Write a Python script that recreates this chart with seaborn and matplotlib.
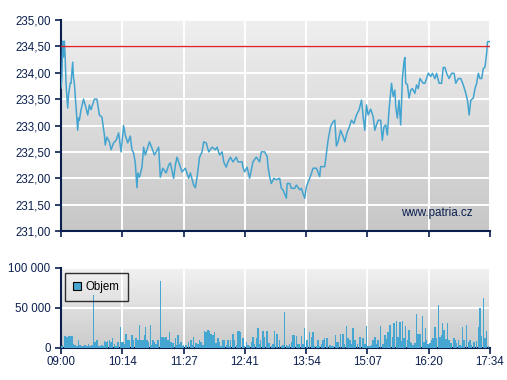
import matplotlib
matplotlib.use("Agg")
import matplotlib.pyplot as plt
import numpy as np
import pandas as pd
import seaborn as sns
from matplotlib.colors import LinearSegmentedColormap
from matplotlib.patches import Patch
from matplotlib.ticker import FuncFormatter

plt.rcParams["font.family"] = ["Liberation Sans", "DejaVu Sans"]

# minutes since 09:00 and price
price_min = [0, 1, 2, 3, 4, 5, 6, 8, 9, 11, 12, 14, 15, 16, 20, 21, 22, 24, 27, 30,
             32, 34, 36, 40, 43, 46, 49, 52, 53, 55, 58, 60, 63, 66, 69, 72, 75, 77, 80, 83,
             85, 87, 89, 91, 92, 94, 97, 99, 101, 104, 106, 109, 112, 114, 117, 119, 122, 126, 129, 131,
             135, 137, 139, 143, 145, 149, 153, 155, 159, 161, 163, 166, 169, 171, 174, 177, 181, 185, 187, 190,
             193, 195, 198, 200, 203, 206, 210, 212, 217, 218, 220, 223, 226, 230, 234, 238, 240, 244, 247, 248,
             250, 252, 255, 258, 262, 264, 266, 270, 271, 274, 276, 280, 282, 286, 288, 290, 292, 294, 298, 300,
             302, 306, 310, 311, 316, 318, 320, 323, 326, 328, 330, 332, 335, 338, 340, 343, 345, 348, 351, 354,
             357, 360, 362, 364, 366, 368, 371, 374, 376, 378, 380, 383, 385, 387, 389, 391, 393, 396, 398, 400,
             401, 403, 405, 407, 408, 409, 411, 412, 413, 415, 417, 419, 421, 424, 426, 428, 430, 434, 436, 438,
             440, 443, 445, 448, 450, 453, 456, 458, 460, 462, 465, 468, 471, 473, 476, 479, 482, 485, 487, 489,
             491, 494, 496, 498, 500, 502, 504, 506, 508, 510, 511, 514]
price = [233.71, 233.90, 234.60, 234.30, 234.60, 234.30, 233.80, 233.33, 233.58, 233.80,
         233.80, 234.20, 233.90, 233.80, 232.91, 233.14, 233.10, 233.30, 233.50, 233.33,
         233.20, 233.39, 233.30, 233.50, 233.50, 233.20, 233.16, 232.82, 232.63, 232.78,
         232.69, 232.54, 232.67, 232.72, 232.86, 232.50, 233.00, 232.82, 232.67, 232.80,
         232.54, 232.48, 232.29, 231.82, 232.10, 232.02, 232.21, 232.59, 232.44, 232.59,
         232.69, 232.57, 232.44, 232.50, 232.59, 232.02, 232.19, 232.10, 232.25, 232.29,
         232.00, 232.25, 232.40, 232.21, 232.12, 232.19, 232.00, 232.10, 231.87, 231.82,
         232.02, 232.40, 232.50, 232.69, 232.67, 232.50, 232.59, 232.54, 232.59, 232.44,
         232.50, 232.31, 232.21, 232.31, 232.40, 232.31, 232.40, 232.31, 232.31, 232.21,
         232.12, 232.21, 232.00, 232.31, 232.40, 232.31, 232.50, 232.50, 232.41, 232.22,
         232.03, 231.90, 232.00, 231.97, 232.00, 231.81, 231.78, 231.62, 231.90, 231.90,
         231.81, 231.81, 231.87, 231.78, 231.81, 231.71, 231.62, 231.84, 232.00, 232.09,
         232.19, 232.19, 232.03, 232.22, 232.22, 232.47, 232.72, 232.98, 233.07, 233.10,
         232.61, 232.69, 232.91, 232.79, 232.69, 232.88, 232.95, 233.10, 233.04, 233.20,
         233.29, 233.48, 233.17, 232.91, 233.39, 233.20, 233.31, 233.17, 232.91, 233.01,
         233.10, 233.10, 232.72, 232.98, 233.01, 232.82, 233.29, 233.80, 233.55, 233.67,
         233.36, 233.14, 233.48, 233.01, 233.42, 233.89, 234.21, 234.29, 233.80, 233.78,
         233.52, 233.67, 233.70, 233.61, 233.77, 233.70, 233.89, 233.80, 233.80, 233.89,
         233.99, 233.93, 233.99, 233.89, 233.99, 233.80, 233.80, 234.10, 234.10, 233.99,
         233.89, 233.99, 233.99, 233.80, 233.89, 233.89, 233.77, 233.61, 233.48, 233.20,
         233.48, 233.52, 233.70, 233.80, 233.99, 233.89, 233.89, 234.08, 234.11, 234.37,
         234.59, 234.59]

ref_price = 234.50

vol_min = [0, 2, 4, 5, 7, 9, 11, 13, 15, 17, 19, 21, 23, 25, 27, 29, 31, 33, 35, 37,
           39, 41, 43, 45, 47, 49, 51, 52, 54, 56, 58, 60, 62, 64, 66, 68, 71, 73, 74, 76,
           78, 80, 82, 85, 87, 89, 90, 92, 94, 96, 98, 100, 101, 103, 105, 107, 109, 110, 112, 114,
           116, 119, 120, 122, 124, 126, 128, 130, 132, 134, 135, 137, 139, 140, 142, 144, 146, 147, 149, 150,
           153, 155, 156, 158, 159, 161, 162, 164, 166, 168, 170, 172, 174, 176, 178, 180, 182, 184, 186, 188,
           190, 192, 194, 196, 198, 200, 202, 203, 206, 208, 210, 212, 214, 215, 218, 220, 222, 224, 226, 228,
           230, 232, 234, 236, 238, 239, 242, 244, 246, 247, 249, 250, 252, 254, 256, 259, 262, 264, 266, 268,
           270, 272, 274, 276, 278, 280, 282, 284, 286, 288, 290, 292, 294, 295, 298, 300, 302, 304, 306, 308,
           310, 312, 314, 316, 319, 322, 324, 326, 329, 330, 332, 335, 338, 339, 342, 344, 346, 348, 350, 352,
           355, 358, 362, 364, 366, 368, 370, 372, 374, 376, 378, 380, 383, 386, 388, 390, 392, 394, 395, 397,
           399, 402, 404, 406, 408, 409, 411, 413, 415, 417, 418, 420, 422, 424, 426, 428, 430, 431, 433, 435,
           437, 438, 440, 442, 444, 446, 448, 450, 452, 454, 456, 457, 459, 461, 463, 465, 467, 470, 471, 472,
           474, 476, 478, 479, 481, 483, 486, 488, 490, 492, 495, 498, 500, 502, 504, 506, 508, 510, 512]
volume = [3000, 4000, 6000, 15000, 14000, 15000, 15000, 15000, 5000, 4000, 3000, 10000, 4000, 3000, 2500, 4000, 3000, 5000, 3000, 3500,
          66000, 8000, 10000, 3000, 2500, 3500, 3000, 8500, 8000, 8500, 10000, 8000, 12000, 5000, 3000, 7000, 26500, 8000, 7000, 5000,
          18000, 10000, 10000, 16000, 10000, 4000, 12000, 10000, 29000, 10000, 10000, 16000, 26500, 10000, 8000, 29000, 4000, 10000, 7000, 5000,
          10000, 84000, 14000, 14000, 13000, 14000, 10000, 20000, 8000, 6000, 5000, 12000, 4000, 16000, 5000, 8000, 3000, 3500, 2500, 4000,
          8000, 2500, 10000, 4000, 14000, 3000, 6000, 5000, 10000, 8000, 4000, 21000, 20000, 22000, 21000, 18000, 16000, 20000, 6000, 12000,
          8000, 3000, 10000, 10000, 4000, 10000, 3000, 10000, 18000, 10000, 4000, 21000, 21000, 20000, 12000, 3000, 8000, 4000, 3000, 8000,
          14000, 5000, 12000, 24500, 5000, 10000, 21000, 14000, 4000, 21500, 6000, 6000, 3000, 5000, 21000, 18000, 10000, 3000, 4000, 45000,
          4000, 2500, 5000, 8000, 16000, 16000, 15000, 5000, 5000, 15000, 5000, 24500, 10000, 10000, 20000, 14000, 20000, 3000, 3000, 10000,
          3000, 5000, 10000, 12000, 13000, 3500, 2500, 2000, 16000, 8000, 8000, 18000, 18000, 5000, 27500, 13000, 10000, 5000, 24500, 10000,
          5000, 14000, 12000, 5000, 27500, 3000, 3000, 4000, 10000, 14000, 5000, 10000, 27500, 5000, 16000, 11000, 20000, 29000, 22500, 14000,
          31000, 34000, 14000, 33000, 9000, 34000, 12000, 27500, 10000, 23000, 8000, 6000, 4000, 6000, 42000, 18000, 18000, 12000, 40000, 8000,
          24500, 10000, 5000, 6000, 10000, 13000, 26000, 12000, 54000, 14000, 16000, 31000, 23000, 11000, 31000, 10000, 6000, 3000, 12000, 10000,
          6000, 10000, 4000, 3000, 26000, 10000, 29000, 8000, 10000, 3500, 8000, 9000, 26500, 50000, 15000, 62000, 12000, 21000, 3000]

tick_labels = ["09:00", "10:14", "11:27", "12:41", "13:54", "15:07", "16:20", "17:34"]
session_len = 514

navy = "#0b1f4f"
line_blue = "#43a4d0"
bar_blue = "#45a6d1"

df_price = pd.DataFrame({"minute": price_min, "price": price})
df_vol = pd.DataFrame({"minute": vol_min, "volume": volume})

fig = plt.figure(figsize=(5.07, 3.8), dpi=100)
ax = fig.add_axes([61 / 507, 1 - 231 / 380, 429 / 507, 211 / 380])
ax2 = fig.add_axes([61 / 507, 1 - 348 / 380, 429 / 507, 80 / 380])

grad = np.linspace(0, 1, 256).reshape(-1, 1)
bg_top = LinearSegmentedColormap.from_list("bg", ["#c7c7c7", "#efefef"])
bg_bot = LinearSegmentedColormap.from_list("bg2", ["#cbcbcb", "#f1f1f1"])


def style_axes(a, cmap):
    a.imshow(grad, extent=[0, 1, 0, 1], transform=a.transAxes, cmap=cmap,
             aspect="auto", origin="lower", zorder=-1)
    a.set_axisbelow(True)
    a.grid(True, color="white", lw=1.4)
    for s in ["top", "right"]:
        a.spines[s].set_visible(False)
    for s in ["left", "bottom"]:
        a.spines[s].set_color(navy)
        a.spines[s].set_linewidth(1.5)
    a.tick_params(colors=navy, labelcolor=navy, labelsize=8.3, length=4, width=1.2)
    a.set_xlim(0, session_len)
    a.set_xticks(np.linspace(0, session_len, len(tick_labels)))
    a.set_xlabel("")
    a.set_ylabel("")


# price panel
style_axes(ax, bg_top)
sns.lineplot(data=df_price, x="minute", y="price", ax=ax, color=line_blue, lw=1.1, zorder=3)
ax.axhline(ref_price, color="#d9262b", lw=1, zorder=4)
ax.set_ylim(231, 235)
ax.set_yticks(np.arange(231, 235.01, 0.5))
ax.yaxis.set_major_formatter(FuncFormatter(lambda v, p: f"{v:.2f}".replace(".", ",")))
ax.set_xticklabels([])
ax.set_xlim(0, session_len)
ax.set_xlabel("")
ax.set_ylabel("")
ax.text(0.96, 0.085, "www.patria.cz", transform=ax.transAxes, ha="right", va="center",
        fontsize=8.4, color=navy)

# volume panel
style_axes(ax2, bg_bot)
ax2.bar(df_vol["minute"], df_vol["volume"], width=1.8, color=bar_blue, align="center",
        lw=0, antialiased=False, zorder=3)
ax2.set_ylim(0, 100000)
ax2.set_yticks([0, 50000, 100000])
ax2.yaxis.set_major_formatter(FuncFormatter(lambda v, p: f"{int(v):,}".replace(",", " ")))
ax2.set_xticklabels(tick_labels)
ax2.set_xlim(0, session_len)
ax2.tick_params(axis="x", pad=2)

leg = ax2.legend(handles=[Patch(facecolor=bar_blue, edgecolor="black", lw=0.8)], labels=["Objem"],
                 loc="upper left", bbox_to_anchor=(0.009, 0.94), borderaxespad=0,
                 fancybox=False, frameon=True, fontsize=8.3, handlelength=0.7,
                 handleheight=0.7, handletextpad=0.4, borderpad=0.7)
leg.get_frame().set_edgecolor("black")
leg.get_frame().set_facecolor("none")
leg.get_frame().set_linewidth(1.0)

fig.savefig("out.png", dpi=100)
